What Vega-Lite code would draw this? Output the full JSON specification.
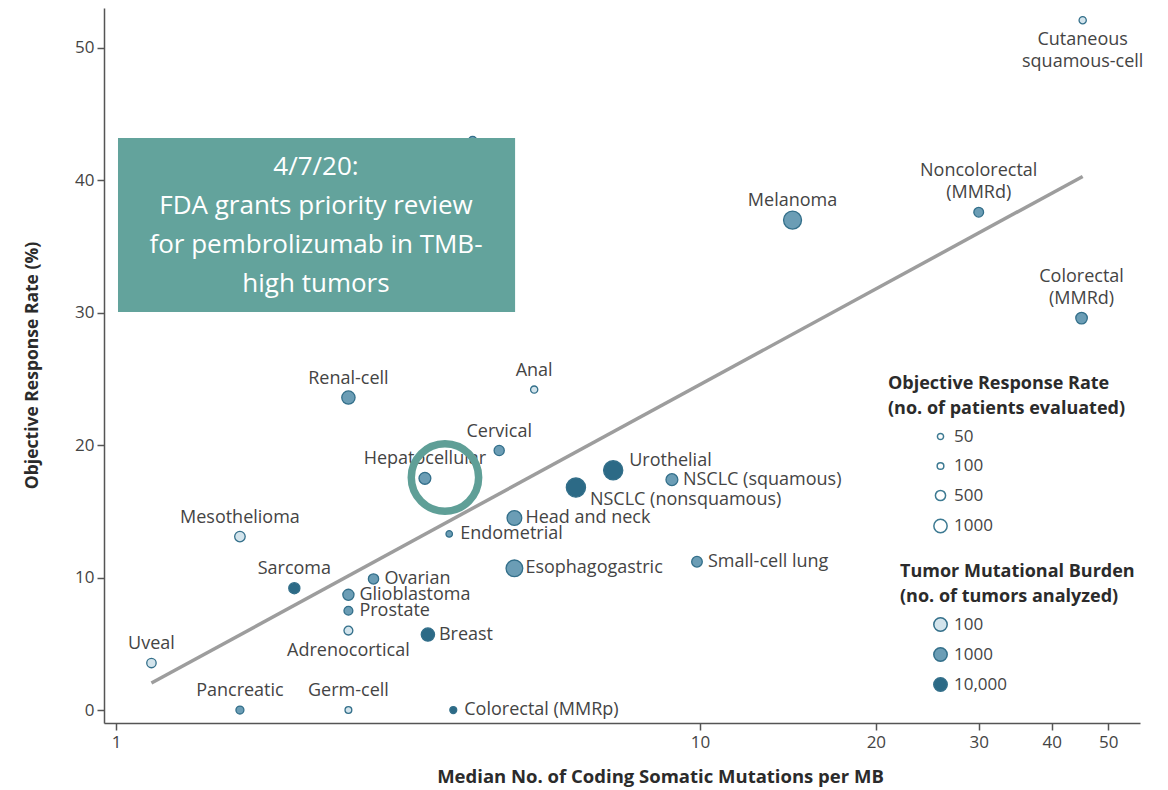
{
  "$schema": "https://vega.github.io/schema/vega-lite/v6.json",
  "width": 1036,
  "height": 715,
  "autosize": {"type": "none"},
  "padding": {"left": 104, "top": 8, "right": 28, "bottom": 67},
  "background": "white",
  "config": {
    "view": {"stroke": null},
    "font": "Open Sans",
    "text": {"font": "Open Sans"},
    "legend": {"padding": 0}
  },
  "datasets": {
    "tumors": [
      {"name": "Cutaneous\nsquamous-cell", "mutations": 45.2, "orr": 52.1, "patients": 150, "tumors": 100, "pos": "below"},
      {"name": "Melanoma", "mutations": 14.4, "orr": 37.0, "patients": 2000, "tumors": 1000, "pos": "above"},
      {"name": "Noncolorectal\n(MMRd)", "mutations": 30.0, "orr": 37.6, "patients": 440, "tumors": 1000, "pos": "above2"},
      {"name": "Colorectal\n(MMRd)", "mutations": 45.0, "orr": 29.6, "patients": 700, "tumors": 1000, "pos": "above2"},
      {"name": "Renal-cell", "mutations": 2.5, "orr": 23.6, "patients": 1000, "tumors": 1000, "pos": "above"},
      {"name": "Anal", "mutations": 5.2, "orr": 24.2, "patients": 150, "tumors": 100, "pos": "above"},
      {"name": "Cervical", "mutations": 4.53, "orr": 19.6, "patients": 500, "tumors": 1000, "pos": "above"},
      {"name": "Hepatocellular", "mutations": 3.38, "orr": 17.5, "patients": 750, "tumors": 1000, "pos": "above"},
      {"name": "Urothelial", "mutations": 7.1, "orr": 18.1, "patients": 2300, "tumors": 10000, "pos": "upright"},
      {"name": "NSCLC (squamous)", "mutations": 8.95, "orr": 17.4, "patients": 750, "tumors": 1000, "pos": "right"},
      {"name": "NSCLC (nonsquamous)", "mutations": 6.13, "orr": 16.8, "patients": 2300, "tumors": 10000, "pos": "downright"},
      {"name": "Head and neck", "mutations": 4.81, "orr": 14.5, "patients": 1270, "tumors": 1000, "pos": "right"},
      {"name": "Endometrial", "mutations": 3.72, "orr": 13.3, "patients": 80, "tumors": 1000, "pos": "right"},
      {"name": "Mesothelioma", "mutations": 1.63, "orr": 13.1, "patients": 550, "tumors": 100, "pos": "above"},
      {"name": "Esophagogastric", "mutations": 4.81, "orr": 10.7, "patients": 1700, "tumors": 1000, "pos": "right"},
      {"name": "Small-cell lung", "mutations": 9.88, "orr": 11.2, "patients": 565, "tumors": 1000, "pos": "right"},
      {"name": "Sarcoma", "mutations": 2.02, "orr": 9.2, "patients": 640, "tumors": 10000, "pos": "above"},
      {"name": "Ovarian", "mutations": 2.76, "orr": 9.9, "patients": 515, "tumors": 1000, "pos": "right"},
      {"name": "Glioblastoma", "mutations": 2.5, "orr": 8.7, "patients": 640, "tumors": 1000, "pos": "right"},
      {"name": "Prostate", "mutations": 2.5, "orr": 7.5, "patients": 330, "tumors": 1000, "pos": "right"},
      {"name": "Adrenocortical", "mutations": 2.5, "orr": 6.0, "patients": 330, "tumors": 100, "pos": "below"},
      {"name": "Breast", "mutations": 3.42, "orr": 5.7, "patients": 1000, "tumors": 10000, "pos": "right"},
      {"name": "Uveal", "mutations": 1.15, "orr": 3.55, "patients": 400, "tumors": 100, "pos": "above"},
      {"name": "Pancreatic", "mutations": 1.63, "orr": 0, "patients": 230, "tumors": 1000, "pos": "above"},
      {"name": "Germ-cell", "mutations": 2.5, "orr": 0, "patients": 110, "tumors": 100, "pos": "above"},
      {"name": "Colorectal (MMRp)", "mutations": 3.78, "orr": 0, "patients": 120, "tumors": 10000, "pos": "right"},
      {"name": "", "mutations": 4.08, "orr": 43.0, "patients": 300, "tumors": 1000, "pos": "none"}
    ],
    "fit": [
      {"mutations": 1.15, "orr": 2.04},
      {"mutations": 45.2, "orr": 40.3}
    ],
    "note": [
      {"mutations": 1.0079, "mutations_end": 4.823, "orr": 43.2, "orr_end": 30.06, "center": 2.2, "first": 41.0, "text": "4/7/20:\nFDA grants priority review\nfor pembrolizumab in TMB-\nhigh tumors"}
    ],
    "ring": [
      {"mutations": 3.658, "orr": 17.56}
    ]
  },
  "layer": [
    {
      "data": {"name": "fit"},
      "mark": {"type": "line", "color": "#9d9d9d", "strokeWidth": 3.5},
      "encoding": {
        "x": {
          "field": "mutations", "type": "quantitative",
          "scale": {"type": "log", "domain": [0.9538, 56.66], "nice": false},
          "axis": {
            "title": "Median No. of Coding Somatic Mutations per MB",
            "values": [1, 10, 20, 30, 40, 50],
            "grid": false,
            "tickSize": 7,
            "tickWidth": 1.5,
            "tickColor": "#555555",
            "domainColor": "#555555",
            "domainWidth": 1.5,
            "labelFontSize": 17,
            "labelColor": "#444444",
            "labelPadding": 4,
            "labelFlush": false,
            "titleFontSize": 18.5,
            "titleFontWeight": "bold",
            "titleColor": "#2b2b2b",
            "titleX": 556,
            "titleY": 53,
            "titleBaseline": "middle",
            "titleAlign": "center"
          }
        },
        "y": {
          "field": "orr", "type": "quantitative",
          "scale": {"domain": [-0.98, 53.02], "nice": false, "zero": false},
          "axis": {
            "title": "Objective Response Rate (%)",
            "values": [0, 10, 20, 30, 40, 50],
            "grid": false,
            "tickSize": 7,
            "tickWidth": 1.5,
            "tickColor": "#555555",
            "domainColor": "#555555",
            "domainWidth": 1.5,
            "labelFontSize": 17,
            "labelColor": "#444444",
            "labelPadding": 3,
            "labelFlush": false,
            "titleFontSize": 17.5,
            "titleFontWeight": "bold",
            "titleColor": "#2b2b2b",
            "titleX": -72,
            "titleY": 357,
            "titleAngle": -90,
            "titleBaseline": "middle",
            "titleAlign": "center"
          }
        }
      }
    },
    {
      "data": {"name": "tumors"},
      "mark": {"type": "circle", "stroke": "#336f8a", "strokeWidth": 1.3, "opacity": 1},
      "encoding": {
        "x": {"field": "mutations", "type": "quantitative"},
        "y": {"field": "orr", "type": "quantitative"},
        "size": {
          "field": "patients", "type": "quantitative",
          "scale": {"domain": [0, 1000], "range": [30, 177]},
          "legend": {
            "orient": "none",
            "legendX": 784,
            "legendY": 367,
            "title": ["Objective Response Rate", "(no. of patients evaluated)"],
            "titleFontSize": 18,
            "titleFontWeight": "bold",
            "titleColor": "#2b2b2b",
            "titleLineHeight": 25,
            "titleLimit": 400,
            "titleAnchor": "start",
            "titleAlign": "left",
            "titlePadding": 10,
            "values": [50, 100, 500, 1000],
            "format": "d",
            "symbolType": "circle",
            "symbolFillColor": "white",
            "symbolStrokeColor": "#3d7a92",
            "symbolStrokeWidth": 1.5,
            "symbolOpacity": 1,
            "symbolOffset": 44,
            "labelOffset": 5,
            "labelFontSize": 17,
            "labelColor": "#444444",
            "rowPadding": 11.5
          }
        },
        "fill": {
          "field": "tumors", "type": "ordinal",
          "scale": {"domain": [100, 1000, 10000], "range": ["#d3e4ec", "#6b9db5", "#2c6a86"]},
          "legend": {
            "orient": "none",
            "legendX": 796,
            "legendY": 555,
            "title": ["Tumor Mutational Burden", "(no. of tumors analyzed)"],
            "titleFontSize": 18,
            "titleFontWeight": "bold",
            "titleColor": "#2b2b2b",
            "titleLineHeight": 25,
            "titleLimit": 400,
            "titleAnchor": "start",
            "titleAlign": "left",
            "titlePadding": 10,
            "symbolType": "circle",
            "symbolSize": 180,
            "symbolStrokeColor": "#336f8a",
            "symbolStrokeWidth": 1.5,
            "symbolOpacity": 1,
            "symbolOffset": 32,
            "labelOffset": 5,
            "labelFontSize": 17,
            "labelColor": "#444444",
            "labelExpr": "datum.value == 10000 ? '10,000' : datum.label",
            "rowPadding": 9
          }
        }
      }
    },
    {
      "data": {"name": "tumors"},
      "transform": [{"filter": "datum.pos == 'above'"}],
      "mark": {"type": "text", "align": "center", "baseline": "bottom", "dy": -10, "fontSize": 18, "color": "#444444"},
      "encoding": {
        "x": {"field": "mutations", "type": "quantitative"},
        "y": {"field": "orr", "type": "quantitative"},
        "text": {"field": "name"}
      }
    },
    {
      "data": {"name": "tumors"},
      "transform": [{"filter": "datum.pos == 'above2'"}],
      "mark": {"type": "text", "align": "center", "baseline": "bottom", "dy": -32, "fontSize": 18, "color": "#444444", "lineBreak": "\n", "lineHeight": 22},
      "encoding": {
        "x": {"field": "mutations", "type": "quantitative"},
        "y": {"field": "orr", "type": "quantitative"},
        "text": {"field": "name"}
      }
    },
    {
      "data": {"name": "tumors"},
      "transform": [{"filter": "datum.pos == 'below'"}],
      "mark": {"type": "text", "align": "center", "baseline": "top", "dy": 11, "fontSize": 18, "color": "#444444", "lineBreak": "\n", "lineHeight": 22},
      "encoding": {
        "x": {"field": "mutations", "type": "quantitative"},
        "y": {"field": "orr", "type": "quantitative"},
        "text": {"field": "name"}
      }
    },
    {
      "data": {"name": "tumors"},
      "transform": [{"filter": "datum.pos == 'right'"}],
      "mark": {"type": "text", "align": "left", "baseline": "middle", "dx": 11, "fontSize": 18, "color": "#444444"},
      "encoding": {
        "x": {"field": "mutations", "type": "quantitative"},
        "y": {"field": "orr", "type": "quantitative"},
        "text": {"field": "name"}
      }
    },
    {
      "data": {"name": "tumors"},
      "transform": [{"filter": "datum.pos == 'upright'"}],
      "mark": {"type": "text", "align": "left", "baseline": "middle", "dx": 16, "dy": -9, "fontSize": 18, "color": "#444444"},
      "encoding": {
        "x": {"field": "mutations", "type": "quantitative"},
        "y": {"field": "orr", "type": "quantitative"},
        "text": {"field": "name"}
      }
    },
    {
      "data": {"name": "tumors"},
      "transform": [{"filter": "datum.pos == 'downright'"}],
      "mark": {"type": "text", "align": "left", "baseline": "middle", "dx": 14, "dy": 12, "fontSize": 18, "color": "#444444"},
      "encoding": {
        "x": {"field": "mutations", "type": "quantitative"},
        "y": {"field": "orr", "type": "quantitative"},
        "text": {"field": "name"}
      }
    },
    {
      "data": {"name": "ring"},
      "mark": {"type": "point", "shape": "circle", "filled": false, "stroke": "#5f9f97", "strokeWidth": 7.5, "size": 4536, "opacity": 1},
      "encoding": {
        "x": {"field": "mutations", "type": "quantitative"},
        "y": {"field": "orr", "type": "quantitative"}
      }
    },
    {
      "data": {"name": "note"},
      "mark": {"type": "rect", "fill": "#63a39c"},
      "encoding": {
        "x": {"field": "mutations", "type": "quantitative"},
        "x2": {"field": "mutations_end"},
        "y": {"field": "orr", "type": "quantitative"},
        "y2": {"field": "orr_end"}
      }
    },
    {
      "data": {"name": "note"},
      "mark": {"type": "text", "align": "center", "baseline": "middle", "font": "Open Sans", "fontSize": 26, "lineHeight": 39, "color": "white", "lineBreak": "\n"},
      "encoding": {
        "x": {"field": "center", "type": "quantitative"},
        "y": {"field": "first", "type": "quantitative"},
        "text": {"field": "text"}
      }
    }
  ]
}
